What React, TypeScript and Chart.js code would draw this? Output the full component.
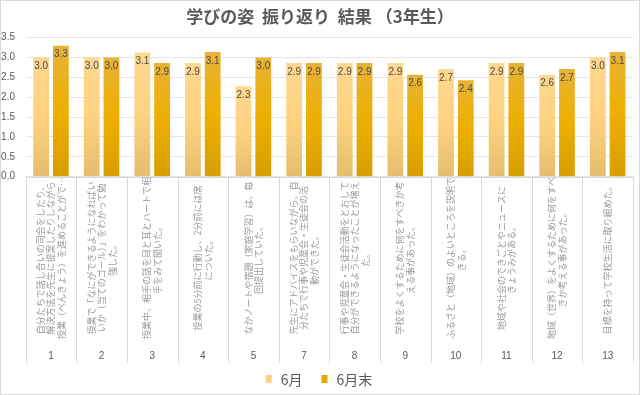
import React, { useEffect, useRef } from 'react';
import { Chart, registerables } from 'chart.js';

Chart.register(...registerables);

const titleText = '学びの姿  振り返り  結果 （3年生）';
const categoryNumbers = ['1', '2', '3', '4', '5', '7', '8', '9', '10', '11', '12', '13'];
const categoryTexts: string[][] = [
  ['自分たちで話し合いの司会をしたり、', '解決方法を先生に提案したりしながら', '授業（べんきょう）を進めることがで…'],
  ['授業で「なにができるようになればい', 'いか（当てのゴール）」をわかって勉', '強した。'],
  ['授業中、相手の話を目と耳とハートで相', '手をみて聞いた。'],
  ['授業の5分前に行動し、2分前には席', 'についた。'],
  ['なかノートや宿題（家庭学習）は、毎', '回提出していた。'],
  ['先生にアドバイスをもらいながら、自', '分たちで行事や児童会・生徒会の活', '動ができた。'],
  ['行事や児童会・生徒会活動をとおして', '自分ができるようになったことが増え', 'た。'],
  ['学校をよくするために何をすべきか考', 'える事があった。'],
  ['ふるさと（地域）のよいところを説明で', 'きる。'],
  ['地域や社会のできごとやニュースに', 'きょうみがある。'],
  ['地域（世界）をよくするために何をすべ', 'きか考える事があった。'],
  ['目標を持って学校生活に取り組めた。'],
];
const seriesNames = ['6月', '6月末'];
const juneValues = [3.0, 3.0, 3.13, 2.86, 2.28, 2.86, 2.86, 2.86, 2.71, 2.86, 2.57, 3.0];
const juneEndValues = [3.3, 3.0, 2.86, 3.14, 3.0, 2.86, 2.86, 2.57, 2.43, 2.86, 2.71, 3.14];
const yTicks = [0, 0.5, 1, 1.5, 2, 2.5, 3, 3.5];

const gradStops: string[][] = [
  ['#FDD891', '#FFD27F', '#E5BD6E'],
  ['#E8B236', '#EDAF00', '#D79E00'],
];
const legendColors = ['#FCD07E', '#E6A800'];

const W = 640;
const H = 395;
const PLOT_LEFT = 25.7;
const PLOT_RIGHT = 633;
const PLOT_TOP = 37.7;
const PLOT_BOTTOM = 176.7;

const JP = '"Noto Sans CJK JP", "Noto Sans", sans-serif';
const NUM = '"Liberation Sans", Arial, sans-serif';

function barGradient(idx: number) {
  return (context: any) => {
    const chart = context.chart;
    const area = chart.chartArea;
    const stops = gradStops[idx];
    if (!area || !chart.scales || !chart.scales.y) return stops[1];
    const yScale = chart.scales.y;
    const v = typeof context.raw === 'number' ? context.raw : 0;
    const top = yScale.getPixelForValue(v);
    const bottom = yScale.getPixelForValue(0);
    if (!isFinite(top) || !isFinite(bottom) || top === bottom) return stops[1];
    const g = chart.ctx.createLinearGradient(0, top, 0, bottom);
    g.addColorStop(0, stops[0]);
    g.addColorStop(0.5, stops[1]);
    g.addColorStop(1, stops[2]);
    return g;
  };
}

const decorPlugin = {
  id: 'decor',
  beforeDraw(chart: any) {
    const ctx = chart.ctx;
    ctx.save();
    ctx.fillStyle = '#ffffff';
    ctx.fillRect(0, 0, chart.width, chart.height);
    ctx.restore();
  },
  afterDatasetsDraw(chart: any) {
    const ctx = chart.ctx;
    ctx.save();
    ctx.font = `10px ${NUM}`;
    ctx.fillStyle = '#4a4a4a';
    ctx.textAlign = 'center';
    ctx.textBaseline = 'middle';
    chart.data.datasets.forEach((ds: any, di: number) => {
      const meta = chart.getDatasetMeta(di);
      meta.data.forEach((el: any, i: number) => {
        const v = ds.data[i] as number;
        ctx.fillText(v.toFixed(1), el.x, el.y + 9);
      });
    });
    ctx.restore();
  },
  afterDraw(chart: any) {
    const ctx = chart.ctx;
    const area = chart.chartArea;
    const xs = chart.scales.x;
    const n = chart.data.labels.length;
    ctx.save();

    // outer border
    ctx.strokeStyle = '#d9d9d9';
    ctx.lineWidth = 1;
    ctx.strokeRect(0.5, 0.5, chart.width - 1, chart.height - 1);

    // title
    ctx.font = `bold 17px ${JP}`;
    ctx.fillStyle = '#595959';
    ctx.textAlign = 'center';
    ctx.textBaseline = 'middle';
    ctx.fillText(titleText, chart.width / 2, 17);

    // axis line
    ctx.strokeStyle = '#d9d9d9';
    ctx.beginPath();
    ctx.moveTo(area.left, Math.round(area.bottom) + 0.5);
    ctx.lineTo(area.right, Math.round(area.bottom) + 0.5);
    ctx.stroke();

    // dividers
    const bounds: number[] = [area.left];
    for (let i = 0; i < n - 1; i++) {
      bounds.push((xs.getPixelForValue(i) + xs.getPixelForValue(i + 1)) / 2);
    }
    bounds.push(area.right);
    ctx.beginPath();
    bounds.forEach((bx) => {
      const px = Math.round(bx) + 0.5;
      ctx.moveTo(px, area.bottom);
      ctx.lineTo(px, 363);
    });
    ctx.stroke();

    // long category texts (rotated)
    ctx.font = `9px ${JP}`;
    ctx.fillStyle = '#999999';
    ctx.textAlign = 'center';
    ctx.textBaseline = 'middle';
    const lh = 10.5;
    const yc = 258;
    for (let i = 0; i < n; i++) {
      const cx = xs.getPixelForValue(i);
      const lines = categoryTexts[i];
      ctx.save();
      ctx.translate(cx, yc);
      ctx.rotate(-Math.PI / 2);
      lines.forEach((line, li) => {
        const off = (li - (lines.length - 1) / 2) * lh;
        ctx.fillText(line, 0, off);
      });
      ctx.restore();
    }

    // numbers
    ctx.font = `10px ${NUM}`;
    ctx.fillStyle = '#595959';
    for (let i = 0; i < n; i++) {
      ctx.fillText(String(chart.data.labels[i]), xs.getPixelForValue(i), 356);
    }

    // legend
    ctx.font = `14px ${JP}`;
    ctx.textAlign = 'left';
    const boxW = 6;
    const boxH = 8;
    const gap = 9;
    const spacing = 19;
    const names = chart.data.datasets.map((d: any) => d.label as string);
    const widths = names.map((s: string) => ctx.measureText(s).width);
    let total = 0;
    widths.forEach((w: number, i: number) => {
      total += boxW + gap + w + (i < widths.length - 1 ? spacing : 0);
    });
    let lx = chart.width / 2 - 1 - total / 2;
    const ly = 379;
    names.forEach((s: string, i: number) => {
      ctx.fillStyle = legendColors[i];
      ctx.fillRect(lx, ly - boxH / 2, boxW, boxH);
      lx += boxW + gap;
      ctx.fillStyle = '#595959';
      ctx.fillText(s, lx, ly + 1);
      lx += widths[i] + spacing;
    });

    ctx.restore();
  },
};

export default function App() {
  const ref = useRef<HTMLCanvasElement | null>(null);
  useEffect(() => {
    if (!ref.current) return;
    const chart = new Chart(ref.current, {
      type: 'bar',
      data: {
        labels: categoryNumbers,
        datasets: [
          {
            label: seriesNames[0],
            data: juneValues,
            backgroundColor: barGradient(0),
            borderWidth: 0,
            categoryPercentage: 0.78,
            barPercentage: 0.8,
          },
          {
            label: seriesNames[1],
            data: juneEndValues,
            backgroundColor: barGradient(1),
            borderWidth: 0,
            categoryPercentage: 0.78,
            barPercentage: 0.8,
          },
        ],
      },
      options: {
        responsive: false,
        animation: false,
        devicePixelRatio: 1,
        layout: {
          padding: { left: 0, right: W - PLOT_RIGHT, top: PLOT_TOP, bottom: 0 },
        },
        plugins: {
          legend: { display: false },
          title: { display: false },
          tooltip: { enabled: false },
        },
        scales: {
          x: {
            grid: { display: false },
            border: { display: false },
            ticks: { display: false },
            afterFit: (axis: any) => {
              axis.height = H - PLOT_BOTTOM;
            },
          },
          y: {
            min: 0,
            max: 3.5,
            afterBuildTicks: (axis: any) => {
              axis.ticks = yTicks.map((v) => ({ value: v }));
            },
            ticks: {
              padding: PLOT_LEFT - 15,
              color: '#595959',
              font: { family: NUM, size: 10 },
              callback: (v: any) => Number(v).toFixed(1),
            },
            grid: { color: '#e6e6e6', drawTicks: false },
            border: { display: false },
            afterFit: (axis: any) => {
              axis.width = PLOT_LEFT;
            },
          },
        },
      },
      plugins: [decorPlugin],
    });
    return () => chart.destroy();
  }, []);
  return (
    <div style={{ position: 'absolute', left: 0, top: 0, width: W, height: H }}>
      <canvas ref={ref} width={W} height={H} style={{ display: 'block' }} />
    </div>
  );
}
